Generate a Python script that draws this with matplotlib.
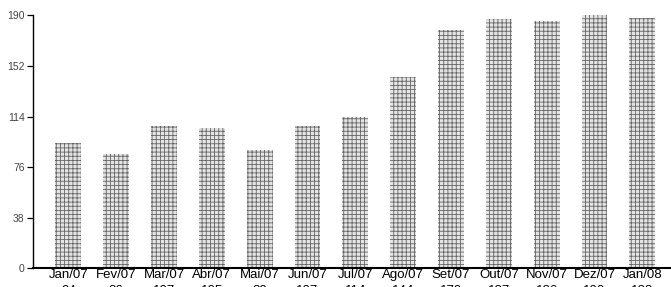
import matplotlib
matplotlib.use("Agg")
from matplotlib import pyplot as plt
from matplotlib.transforms import blended_transform_factory
import numpy as np

meses = ['Jan/07', 'Fev/07', 'Mar/07', 'Abr/07', 'Mai/07', 'Jun/07', 'Jul/07',
         'Ago/07', 'Set/07', 'Out/07', 'Nov/07', 'Dez/07', 'Jan/08']
valores = [94, 86, 107, 105, 89, 107, 114, 144, 179, 187, 186, 190, 188]
yticks = [0, 38, 76, 114, 152, 190]

plt.rcParams['font.family'] = ['Liberation Sans', 'DejaVu Sans']
plt.rcParams['hatch.linewidth'] = 0.6

fig = plt.figure(figsize=(6.71, 2.87), dpi=100)
ax = fig.add_axes([0.049, 0.066, 0.951, 0.88])

x = np.arange(len(meses))
ax.bar(x, valores, width=0.54, color='#e4e4e4', edgecolor='#666666',
       linewidth=0, hatch='++++')

ax.set_xlim(-0.74, 12.6)
ax.set_ylim(0, 190)
ax.set_yticks(yticks)
ax.set_yticklabels([str(v) for v in yticks], fontsize=7.5, color='#444444')
ax.set_xticks(x)
ax.set_xticklabels(meses, fontsize=9.5)
ax.tick_params(axis='x', length=0, pad=1)
ax.tick_params(axis='y', length=4, width=0.9, direction='out', pad=2)

ax.spines['top'].set_visible(False)
ax.spines['right'].set_visible(False)
ax.spines['left'].set_linewidth(1.0)
ax.spines['bottom'].set_linewidth(1.5)

# valores abaixo dos meses (cortados na borda inferior, como no original)
trans = blended_transform_factory(ax.transData, fig.transFigure)
for xi, v in zip(x, valores):
    ax.text(xi, 2.5 / 287, str(v), transform=trans, ha='center', va='top',
            fontsize=9.5, clip_on=False)

fig.savefig('out.png', dpi=100)
